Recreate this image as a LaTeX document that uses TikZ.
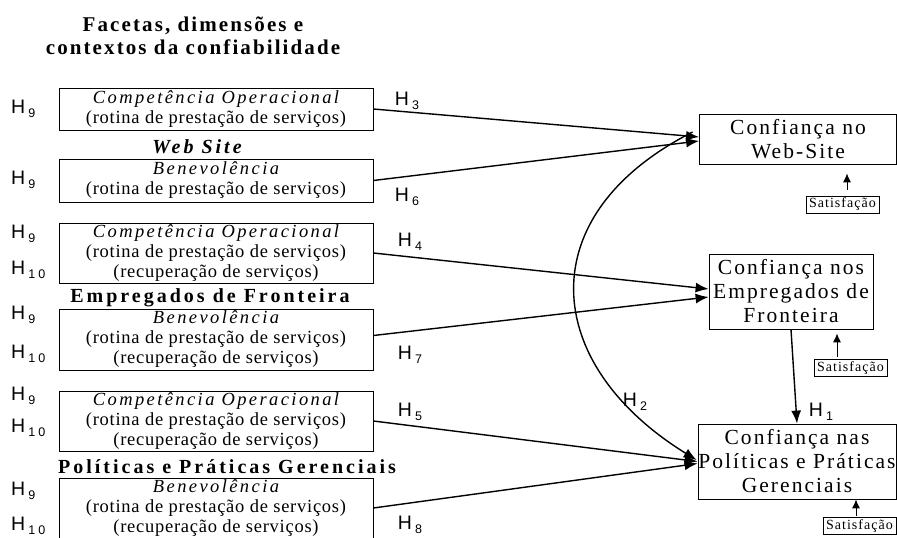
\documentclass[tikz,border=0pt]{standalone}
\usepackage{fontspec}
\setmainfont{Liberation Serif}
\setsansfont{Liberation Sans}
\newfontfamily\spacedA[LetterSpace=4]{Liberation Serif}
\newfontfamily\spacedB[LetterSpace=15]{Liberation Serif}
\newfontfamily\spacedC[LetterSpace=9.5]{Liberation Serif}
\newfontfamily\spacedD[LetterSpace=7.5]{Liberation Serif}
\newfontfamily\spacedS[LetterSpace=25]{Liberation Sans}
\usetikzlibrary{arrows.meta}

% hypothesis label, H with a lowered index
\newcommand{\hyp}[1]{{\sffamily\fontsize{19.5}{19.5}\selectfont H\kern3pt\raisebox{-4.5pt}{\spacedS\fontsize{12.5}{12.5}\selectfont #1}}}
\newcommand{\facetname}[1]{{\spacedB\itshape\addfontfeature{LetterSpace=13} #1}}

\tikzset{
    facet/.style={draw, line width=0.8pt, minimum width=314pt, align=center,
        inner sep=0pt, font=\spacedA\fontsize{18.5}{20}\selectfont},
    trust/.style={draw, line width=0.8pt, align=center, inner sep=0pt,
        font=\spacedC\fontsize{21.5}{24}\selectfont},
    satbox/.style={draw, line width=0.6pt, inner sep=0.5pt, minimum width=73pt,
        minimum height=17pt, font=\spacedD\fontsize{14}{14}\selectfont},
    heading/.style={align=center, font=\spacedB\bfseries\fontsize{20}{23}\selectfont},
    hlabel/.style={inner sep=0pt},
    link/.style={line width=1.4pt, -{Latex[length=13pt,width=10pt]}},
    satarrow/.style={line width=0.9pt, -{Latex[length=9pt,width=8pt]}}
}

\begin{document}
\begin{tikzpicture}[x=1pt, y=-1pt]
    \useasboundingbox (0,0) rectangle (897,538);

    \node[heading, font=\spacedB\bfseries\addfontfeature{LetterSpace=10}\fontsize{21}{23}\selectfont] (title) at (193,36)
        {Facetas, dimensões e\\contextos da confiabilidade};

    % left column: facets per context
    \node[facet, minimum height=42pt] (bx1) at (216,109)
        {\facetname{Competência Operacional}\\(rotina de prestação de serviços)};
    \node[heading] (webhd) at (197,147) {\itshape Web Site};
    \node[facet, minimum height=43pt] (bx2) at (216,180.5)
        {\facetname{Benevolência}\\(rotina de prestação de serviços)};
    \node[facet, minimum height=60pt] (bx3) at (216,253)
        {\facetname{Competência Operacional}\\(rotina de prestação de serviços)\\(recuperação de serviços)};
    \node[heading] (emphd) at (210,298) {Empregados de Fronteira};
    \node[facet, minimum height=61pt] (bx4) at (216,339.5)
        {\facetname{Benevolência}\\(rotina de prestação de serviços)\\(recuperação de serviços)};
    \node[facet, minimum height=60pt] (bx5) at (216,421)
        {\facetname{Competência Operacional}\\(rotina de prestação de serviços)\\(recuperação de serviços)};
    \node[heading] (polhd) at (227,467) {Políticas e Práticas Gerenciais};
    \node[facet, minimum height=60pt] (bx6) at (216,508)
        {\facetname{Benevolência}\\(rotina de prestação de serviços)\\(recuperação de serviços)};

    \foreach \i/\s/\y in {a/9/109, b/9/180, c/9/234, d/10/270, e/9/315,
                          f/10/354, g/9/396, h/10/428, i/9/491, j/10/526}
        \node[hlabel, anchor=west] (hl\i) at (11,\y) {\hyp{\s}};

    % right column: trust
    \node[trust, minimum width=197pt, minimum height=50pt] (web) at (798,139)
        {Confiança no\\Web-Site};
    \node[trust, minimum width=164pt, minimum height=75pt] (emp) at (791,291.5)
        {Confiança nos\\Empregados de\\Fronteira};
    \node[trust, minimum width=198pt, minimum height=75pt] (pol) at (797,461.5)
        {Confiança nas\\Políticas e Práticas\\Gerenciais};

    \node[satbox] (sat1) at (842.5,204.5) {Satisfação};
    \node[satbox] (sat2) at (850.5,368) {Satisfação};
    \node[satbox] (sat3) at (859.5,526) {Satisfação};

    % hypotheses
    \draw[link] (bx1.east) -- ([yshift=2pt]web.west);
    \draw[link] (bx2.east) -- ([yshift=-2pt]web.west);
    \draw[link] (bx3.east) -- ([yshift=2.5pt]emp.west);
    \draw[link] ([yshift=4pt]bx4.east) -- ([yshift=-5.5pt]emp.west);
    \draw[link] (bx5.east) -- (pol.west);
    \draw[link] (bx6.east) -- ([yshift=-2pt]pol.west);
    \draw[link] (emp.south) -- (pol.north);
    \draw[link] ([xshift=-6.5pt,yshift=7pt]web.west) .. controls (529,215) and (541,364) .. ([xshift=-1pt,yshift=1.5pt]pol.west);

    \draw[satarrow, shorten >=9pt] ([xshift=4.5pt,yshift=6pt]sat1.north) -- ([xshift=4.5pt]sat1.north |- web.south);
    \draw[satarrow, shorten >=4pt] ([xshift=-13.5pt,yshift=2pt]sat2.north) -- ([xshift=-13.5pt]sat2.north |- emp.south);
    \draw[satarrow] ([xshift=-3.5pt,yshift=1pt]sat3.north) -- ([xshift=-3.5pt]sat3.north |- pol.south);

    \foreach \n/\x/\y in {3/407/101, 6/407/197, 4/410/242, 7/410/355,
                          5/410/412, 8/410/525, 2/635/402, 1/821/412}
        \node[hlabel] (hh\n) at (\x,\y) {\hyp{\n}};
\end{tikzpicture}
\end{document}
